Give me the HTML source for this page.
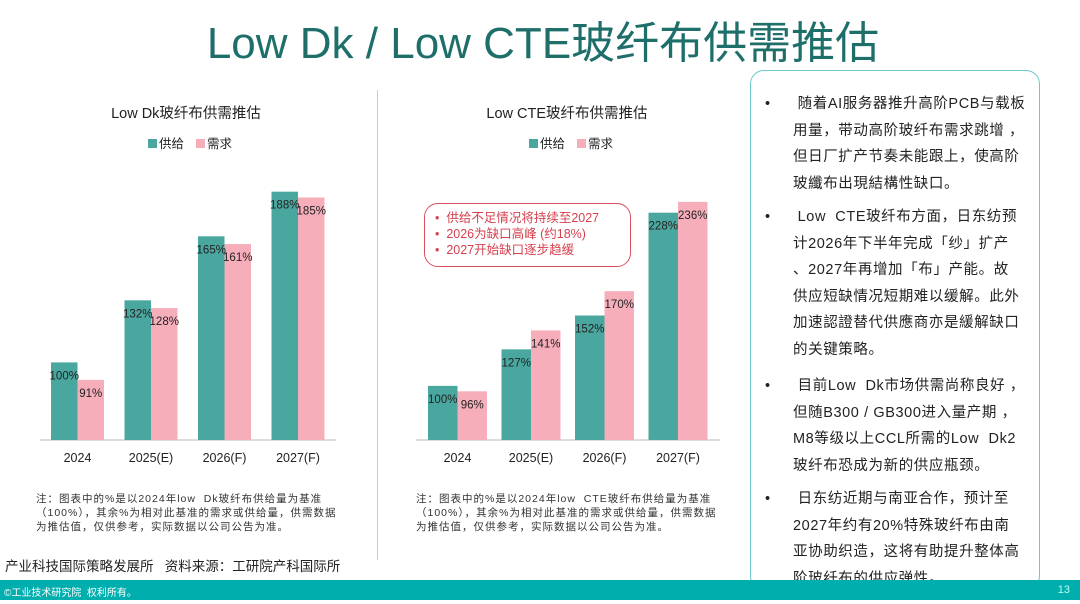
<!DOCTYPE html>
<html><head><meta charset="utf-8">
<style>
body{margin:0;width:1080px;height:604px;position:relative;background:#fff;overflow:hidden;font-family:"Liberation Sans","Noto Sans CJK SC",sans-serif;color:#222}
.abs{position:absolute}
#title{left:0;width:1086px;top:7px;text-align:center;font-size:44px;color:#1e6f6a;white-space:nowrap}
.note{font-size:10.5px;line-height:14px;color:#333;letter-spacing:1px}
#box{left:750px;top:70px;width:290px;height:520px;border:1.5px solid #6ccaca;border-radius:14px;box-sizing:border-box}
.bl{position:absolute;left:14px;font-size:14.5px;line-height:26.5px;color:#222;letter-spacing:.6px;white-space:nowrap}
.bl .d{position:absolute;left:0}
.bl .t{margin-left:28px}
#footer{left:0;top:580px;width:1080px;height:20px;background:#00aeae}
</style></head><body>
<div id="title" class="abs">Low Dk / Low CTE玻纤布供需推估</div>
<div class="abs" style="left:377px;top:90px;width:1px;height:470px;background:#ccc"></div>
<svg class="abs" style="left:0;top:0" width="750" height="480" id="charts"></svg>
<div class="abs" style="left:424px;top:203px;width:207px;height:64px;border:1.5px solid #d9505f;border-radius:14px;box-sizing:border-box;color:#d6404e;font-size:12.5px;line-height:16px;padding:6px 0 0 10px">
<div>•&nbsp;&nbsp;供给不足情况将持续至2027</div><div>•&nbsp;&nbsp;2026为缺口高峰 (约18%)</div><div>•&nbsp;&nbsp;2027开始缺口逐步趋缓</div></div>
<div class="abs note" style="left:36px;top:492px;width:310px">注：图表中的%是以2024年low&nbsp; Dk玻纤布供给量为基准（100%），其余%为相对此基准的需求或供给量，供需数据为推估值，仅供参考，实际数据以公司公告为准。</div>
<div class="abs note" style="left:416px;top:492px;width:310px">注：图表中的%是以2024年low&nbsp; CTE玻纤布供给量为基准（100%），其余%为相对此基准的需求或供给量，供需数据为推估值，仅供参考，实际数据以公司公告为准。</div>
<div class="abs" style="left:5px;top:555px;font-size:13.5px;white-space:nowrap">产业科技国际策略发展所&nbsp;&nbsp; 资料来源：工研院产科国际所</div>
<div id="box" class="abs">
<div class="bl" style="top:20px"><span class="d">•</span><div class="t">&nbsp;随着AI服务器推升高阶PCB与载板<br>用量，带动高阶玻纤布需求跳增&nbsp;，<br>但日厂扩产节奏未能跟上，使高阶<br>玻纖布出現結構性缺口。</div></div>
<div class="bl" style="top:133px"><span class="d">•</span><div class="t">&nbsp;Low&nbsp; CTE玻纤布方面，日东纺预<br>计2026年下半年完成「纱」扩产<br>、2027年再增加「布」产能。故<br>供应短缺情况短期难以缓解。此外<br>加速認證替代供應商亦是緩解缺口<br>的关键策略。</div></div>
<div class="bl" style="top:302px"><span class="d">•</span><div class="t">&nbsp;目前Low&nbsp; Dk市场供需尚称良好&nbsp;，<br>但随B300 / GB300进入量产期&nbsp;，<br>M8等级以上CCL所需的Low&nbsp; Dk2<br>玻纤布恐成为新的供应瓶颈。</div></div>
<div class="bl" style="top:415px"><span class="d">•</span><div class="t">&nbsp;日东纺近期与南亚合作，预计至<br>2027年约有20%特殊玻纤布由南<br>亚协助织造，这将有助提升整体高<br>阶玻纤布的供应弹性。</div></div>
</div>
<div id="footer" class="abs"><span style="color:#fff;font-size:10px;position:absolute;left:4px;top:4px">©工业技术研究院&nbsp; 权利所有。</span><span style="color:#bfe;font-size:11px;position:absolute;right:10px;top:4px">13</span></div>
<script>
const categories=["2024","2025(E)","2026(F)","2027(F)"];
const dkSupply=[100,132,165,188];
const dkDemand=[91,128,161,185];
const cteSupply=[100,127,152,228];
const cteDemand=[96,141,170,236];
const NS="http://www.w3.org/2000/svg";
const svg=document.getElementById('charts');
function mk(tag,attrs,text){const e=document.createElementNS(NS,tag);for(const k in attrs)e.setAttribute(k,attrs[k]);if(text!==undefined)e.textContent=text;svg.appendChild(e);return e;}
function chart(o,sup,dem,title,nm){
  const base=440,minV=60;
  const y=v=>base-(v-minV)*o.k;
  const x=i=>o.c0+i*o.step;
  let t=mk('text',{x:o.tx,y:118,'text-anchor':'middle','font-size':14.5,fill:'#222'},title);
  
  
  let r=mk('rect',{x:o.tx-38,y:139,width:9,height:9,fill:'#4aa79f'});
  
  
  mk('text',{x:o.tx-27,y:148,'font-size':12.5,fill:'#222'},'供给');
  r=mk('rect',{x:o.tx+10,y:139,width:9,height:9,fill:'#f7aebb'});
  
  
  mk('text',{x:o.tx+21,y:148,'font-size':12.5,fill:'#222'},'需求');
  let ax=mk('line',{x1:o.ax0,x2:o.ax1,y1:base,y2:base,stroke:'#bbb','stroke-width':1});
  
  
  categories.forEach((c,i)=>{
    const cx=x(i);
    let b=mk('rect',{x:cx-o.bw,y:y(sup[i]),width:o.bw,height:base-y(sup[i]),fill:'#4aa79f'});
    
    
    b=mk('rect',{x:cx,y:y(dem[i]),width:o.bw,height:base-y(dem[i]),fill:'#f7aebb'});
    
    
    mk('text',{x:cx-o.bw/2,y:y(sup[i])+17,'text-anchor':'middle','font-size':11.5,fill:'#222'},sup[i]+'%');
    mk('text',{x:cx+o.bw/2,y:y(dem[i])+17,'text-anchor':'middle','font-size':11.5,fill:'#222'},dem[i]+'%');
    const l=mk('text',{x:cx,y:462,'text-anchor':'middle','font-size':12.5,fill:'#222'},c);
    
    
  });
}
chart({c0:77.5,step:73.5,bw:26.5,k:1.94,tx:186,ax0:40,ax1:336},dkSupply,dkDemand,'Low  Dk玻纤布供需推估','dk-chart');
chart({c0:457.5,step:73.5,bw:29.5,k:1.353,tx:567,ax0:416,ax1:720},cteSupply,cteDemand,'Low  CTE玻纤布供需推估','cte-chart');
</script>
</body></html>
